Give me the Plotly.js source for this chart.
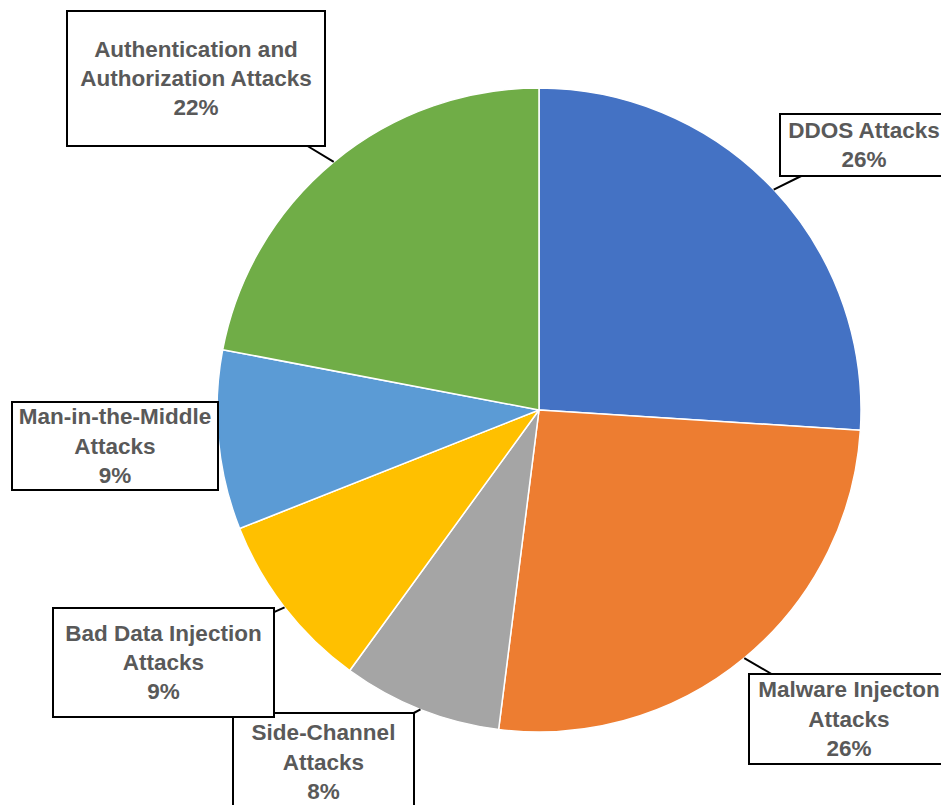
<!DOCTYPE html>
<html>
<head>
<meta charset="utf-8">
<script src="https://cdn.plot.ly/plotly-3.0.1.min.js"></script>
<style>html,body{margin:0;padding:0;background:#fff;}#chart{width:941px;height:805px;}</style>
</head>
<body>
<div id="chart"></div>
<script>
// Data (clockwise from 12 o'clock)
const categories = ["DDOS Attacks", "Malware Injecton Attacks", "Side-Channel Attacks", "Bad Data Injection Attacks", "Man-in-the-Middle Attacks", "Authentication and Authorization Attacks"];
const labelLines = [
  ["DDOS Attacks"],
  ["Malware Injecton", "Attacks"],
  ["Side-Channel", "Attacks"],
  ["Bad Data Injection", "Attacks"],
  ["Man-in-the-Middle", "Attacks"],
  ["Authentication and", "Authorization Attacks"]
];
const values = [26, 26, 8, 9, 9, 22];
const colors = ["#4472C4", "#ED7D31", "#A5A5A5", "#FFC000", "#5B9BD5", "#70AD47"];

// Layout geometry (pixels)
const W = 941, H = 805;
const cx = 539, cy = 410, R = 322;
// label box centre / size in pixels
const boxes = [
  {x: 864, y: 145, w: 170, h: 64},
  {x: 849, y: 719, w: 202, h: 92},
  {x: 323.5, y: 762, w: 183, h: 100},
  {x: 163.5, y: 662.5, w: 223, h: 111},
  {x: 115, y: 446, w: 208, h: 90},
  {x: 196, y: 78.5, w: 260, h: 137}
];

const total = values.reduce((a, b) => a + b, 0);
let cum = 0;
const annotations = values.map((v, i) => {
  const mid = (cum + v / 2) / total * 2 * Math.PI;
  cum += v;
  const tx = cx + R * Math.sin(mid);
  const ty = cy - R * Math.cos(mid);
  const b = boxes[i];
  const pct = Math.round(v / total * 100) + "%";
  return {
    xref: "paper", yref: "paper",
    x: tx / W, y: 1 - ty / H,
    ax: b.x - tx, ay: b.y - ty,
    showarrow: true, arrowhead: 0, arrowwidth: 2, arrowcolor: "#000",
    text: labelLines[i].concat([pct]).join("<br>"),
    font: {family: "Liberation Sans, Arial, sans-serif", size: 22.5, color: "#595959", weight: 700},
    align: "center",
    bgcolor: "#ffffff", bordercolor: "#000000", borderwidth: 2, borderpad: 0,
    width: b.w - 4, height: b.h - 4
  };
});

const trace = {
  type: "pie",
  labels: categories,
  values: values,
  sort: false,
  direction: "clockwise",
  rotation: 0,
  textinfo: "none",
  hoverinfo: "none",
  marker: {colors: colors, line: {color: "#ffffff", width: 1.5}},
  domain: {x: [(cx - R) / W, (cx + R) / W], y: [1 - (cy + R) / H, 1 - (cy - R) / H]},
  showlegend: false
};

const layout = {
  width: W, height: H,
  margin: {l: 0, r: 0, t: 0, b: 0},
  paper_bgcolor: "#ffffff",
  showlegend: false,
  annotations: annotations
};

Plotly.newPlot("chart", [trace], layout, {staticPlot: true, displayModeBar: false});
</script>
</body>
</html>
